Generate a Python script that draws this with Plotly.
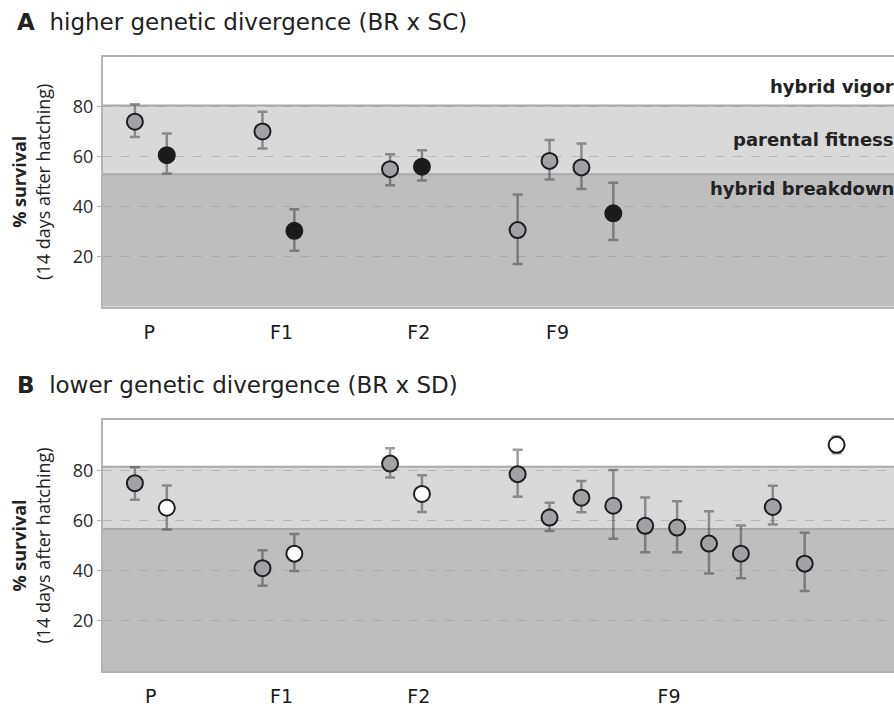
import plotly.graph_objects as go

# ---------------- data ----------------
tick_labels = ["P", "F1", "F2", "F9"]

# Panel A: higher genetic divergence (BR x SC)
A_group = ["P", "P", "F1", "F1", "F2", "F2", "F9", "F9", "F9", "F9"]
A_kind = ["g", "k", "g", "k", "g", "k", "g", "g", "g", "k"]
A_mean = [74.1, 60.7, 70.2, 30.4, 55.1, 56.1, 30.7, 58.4, 55.8, 37.4]
A_upper = [81.1, 69.4, 78.1, 39.0, 61.1, 62.7, 45.0, 66.8, 65.4, 49.7]
A_lower = [68.0, 53.4, 63.4, 22.4, 48.7, 50.6, 17.1, 51.0, 47.2, 26.7]
A_bands = [53.1, 80.6]          # breakdown / parental, parental / vigor
A_tickpos = [0.45, 4.6, 8.9, 13.25]

# Panel B: lower genetic divergence (BR x SD)
B_group = ["P", "P", "F1", "F1", "F2", "F2"] + ["F9"] * 11
B_kind = ["g", "w", "g", "w", "g", "w"] + ["g"] * 10 + ["w"]
B_mean = [74.9, 65.1, 41.0, 46.8, 82.7, 70.6, 78.5, 61.2, 69.1, 65.9, 57.9,
          57.2, 50.8, 46.8, 65.4, 42.8, 90.2]
B_upper = [81.3, 74.0, 48.2, 54.6, 88.8, 78.1, 88.2, 67.1, 75.8, 80.2, 69.2,
           67.7, 63.7, 58.0, 73.9, 55.1, 93.5]
B_lower = [68.3, 56.4, 34.0, 39.9, 77.2, 63.4, 69.5, 55.8, 63.3, 52.7, 47.4,
           47.4, 38.9, 37.0, 58.4, 31.9, 86.8]
B_bands = [56.6, 81.5]
B_tickpos = [0.5, 4.6, 8.9, 16.75]

band_labels = ["hybrid vigor", "parental fitness", "hybrid breakdown"]

# ---------------- helpers ----------------
def slot_positions(groups, gap=3):
    pos, cur, prev = [], None, None
    for g in groups:
        if cur is None:
            cur = 0
        elif g != prev:
            cur += gap
        else:
            cur += 1
        pos.append(cur)
        prev = g
    return pos

FILL = {"g": "#a2a2a4", "k": "#1b1b1b", "w": "#ffffff"}
ERRC = "rgba(50,50,50,0.48)"

fig = go.Figure()

def add_panel(xa, ya, groups, kinds, mean, upper, lower):
    xs = slot_positions(groups)
    for kd in ["g", "k", "w"]:
        idx = [i for i, k in enumerate(kinds) if k == kd]
        if not idx:
            continue
        fig.add_trace(go.Scatter(
            x=[xs[i] for i in idx],
            y=[mean[i] for i in idx],
            mode="markers",
            xaxis=xa, yaxis=ya,
            showlegend=False,
            marker=dict(size=16, color=FILL[kd],
                        line=dict(color="#1e1e1e", width=2)),
            error_y=dict(type="data", symmetric=False,
                         array=[upper[i] - mean[i] for i in idx],
                         arrayminus=[mean[i] - lower[i] for i in idx],
                         color=ERRC, thickness=2.5, width=5),
        ))

add_panel("x", "y", A_group, A_kind, A_mean, A_upper, A_lower)
add_panel("x2", "y2", B_group, B_kind, B_mean, B_upper, B_lower)

shapes = []
annotations = []
for yref, xref, bands in [("y", "x domain", A_bands), ("y2", "x2 domain", B_bands)]:
    lo, hi = bands
    shapes.append(dict(type="rect", xref=xref, yref=yref, x0=0, x1=1, y0=0, y1=lo,
                       fillcolor="#bebebf", line=dict(width=0), layer="below"))
    shapes.append(dict(type="rect", xref=xref, yref=yref, x0=0, x1=1, y0=lo, y1=hi,
                       fillcolor="#d9d9da", line=dict(width=0), layer="below"))
    for v in bands:
        shapes.append(dict(type="line", xref=xref, yref=yref, x0=0, x1=1, y0=v, y1=v,
                           line=dict(color="#a9a9aa", width=2), layer="below"))

# band labels (panel A only)
lo, hi = A_bands
for txt, yv in zip(band_labels, [(hi + 100) / 2 - 2.3, (lo + hi) / 2, lo - 5.6]):
    annotations.append(dict(text="<b>%s</b>" % txt, xref="x domain", yref="y",
                            x=1, y=yv, xanchor="right", yanchor="middle",
                            xshift=2, showarrow=False,
                            font=dict(family="DejaVu Sans", size=18, color="#222222")))

# panel titles
plot_w = 791
annotations.append(dict(text="<b>A</b>  higher genetic divergence (BR x SC)",
                        xref="paper", yref="y domain", x=(15 - 103) / plot_w,
                        y=1, yshift=35, xanchor="left", yanchor="middle",
                        showarrow=False,
                        font=dict(family="DejaVu Sans", size=23, color="#222222")))
annotations.append(dict(text="<b>B</b>  lower genetic divergence (BR x SD)",
                        xref="paper", yref="y2 domain", x=(15 - 103) / plot_w,
                        y=1, yshift=35, xanchor="left", yanchor="middle",
                        showarrow=False,
                        font=dict(family="DejaVu Sans", size=23, color="#222222")))

# y-axis titles
for yd in ["y domain", "y2 domain"]:
    annotations.append(dict(text="<b>% survival</b><br>(14 days after hatching)",
                            xref="paper", yref=yd, x=(31 - 103) / plot_w, y=0.5,
                            xanchor="center", yanchor="middle", textangle=-90,
                            showarrow=False,
                            font=dict(family="Open Sans", size=18, color="#222222")))

axis_common_x = dict(range=[-1.0, 23.8], showgrid=False, zeroline=False,
                     showline=True, mirror=True, linecolor="#b4b4b4", linewidth=2,
                     ticks="outside", ticklen=7, tickcolor="rgba(0,0,0,0)",
                     ticktext=tick_labels,
                     tickfont=dict(family="DejaVu Sans", size=19, color="#1a1a1a"))
axis_common_y = dict(range=[0, 100], tickvals=[20, 40, 60, 80],
                     showgrid=True, gridcolor="rgba(150,150,150,0.5)",
                     griddash="dash", gridwidth=1, zeroline=False,
                     showline=True, linecolor="#b4b4b4", linewidth=2,
                     ticks="outside", ticklen=4, tickcolor="#b4b4b4",
                     tickfont=dict(family="Open Sans", size=18, color="#2a2a2a"))

fig.update_layout(
    width=894, height=707,
    margin=dict(l=103, r=0, t=57, b=28),
    paper_bgcolor="white", plot_bgcolor="white",
    showlegend=False,
    xaxis=dict(axis_common_x, anchor="y", tickvals=A_tickpos),
    yaxis=dict(axis_common_y, anchor="x", domain=[0.5932, 1.0]),
    xaxis2=dict(axis_common_x, anchor="y2", tickvals=B_tickpos),
    yaxis2=dict(axis_common_y, anchor="x2", domain=[0.0, 0.4084]),
    shapes=shapes,
    annotations=annotations,
)

fig.write_html(
    "out.html",
    config={"displayModeBar": False},
    post_script="document.body.style.margin='0px';document.body.style.overflow='hidden';",
)
